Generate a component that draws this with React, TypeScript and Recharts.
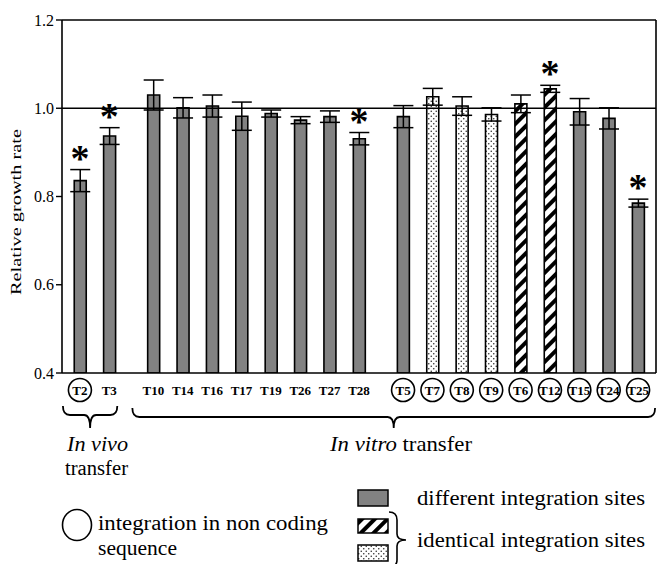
import React from "react";
import {
  ComposedChart,
  Bar,
  Cell,
  ErrorBar,
  Scatter,
  XAxis,
  YAxis,
  ReferenceLine,
} from "recharts";

// strains, in the order they are drawn
const strains = ["T2", "T3", "T10", "T14", "T16", "T17", "T19", "T26", "T27", "T28", "T5", "T7", "T8", "T9", "T6", "T12", "T15", "T24", "T25"];
// 0 = in vivo, 1 and 2 = in vitro (drawn with a gap between clusters)
const clusters = [0, 0, 1, 1, 1, 1, 1, 1, 1, 1, 2, 2, 2, 2, 2, 2, 2, 2, 2];
const growthRate = [0.836, 0.937, 1.03, 1.001, 1.005, 0.982, 0.988, 0.973, 0.981, 0.931, 0.981, 1.026, 1.005, 0.986, 1.01, 1.044, 0.992, 0.977, 0.785];
const growthErr = [0.025, 0.019, 0.034, 0.023, 0.025, 0.032, 0.008, 0.008, 0.013, 0.014, 0.025, 0.019, 0.021, 0.015, 0.02, 0.008, 0.03, 0.024, 0.009];
const significant = ["T2", "T3", "T28", "T12", "T25"];
const nonCoding = ["T2", "T5", "T7", "T8", "T9", "T6", "T12", "T15", "T24", "T25"];
const hatched = ["T6", "T12"];
const dotted = ["T7", "T8", "T9"];
const yTicks = [0.4, 0.6, 0.8, 1.0, 1.2];

const X_MIN = -0.61;
const X_MAX = 19.61;
const PLOT_L = 62;
const PLOT_R = 656;
const SERIF = '"Liberation Serif", "Times New Roman", serif';
const GRAY = "#828282";

const data = strains.map((s, i) => ({
  name: s,
  pos: i + clusters[i] * 0.5,
  rate: growthRate[i],
  err: growthErr[i],
  star: significant.includes(s) ? growthRate[i] + growthErr[i] : null,
}));

const xPx = (v: number) => PLOT_L + ((v - X_MIN) / (X_MAX - X_MIN)) * (PLOT_R - PLOT_L);

const fillFor = (s: string) =>
  hatched.includes(s) ? "url(#hatch)" : dotted.includes(s) ? "url(#dots)" : GRAY;

const StrainTick = ({ x, y, payload }: any) => {
  const d = data.find((p) => p.pos === payload.value);
  if (!d) return <g />;
  return (
    <g>
      {nonCoding.includes(d.name) && (
        <circle cx={x} cy={y + 17} r={11.5} fill="none" stroke="#000" strokeWidth={1.6} />
      )}
      <text x={x} y={y + 22} textAnchor="middle" fontFamily={SERIF} fontWeight="bold" fontSize={13} fill="#000">
        {d.name}
      </text>
    </g>
  );
};

const Star = ({ cx, cy, payload }: any) => {
  if (payload?.star == null) return <g />;
  return (
    <text x={cx} y={cy + 1} textAnchor="middle" fontFamily={SERIF} fontWeight="bold" fontSize={38} fill="#000">
      *
    </text>
  );
};

// curly brace pointing down, from x1 to x2
const braceDown = (x1: number, x2: number, y: number, h: number) => {
  const m = (x1 + x2) / 2;
  return `M${x1},${y - 9} Q${x1},${y} ${x1 + 7},${y} L${m - 6},${y} Q${m},${y} ${m},${y + h} Q${m},${y} ${m + 6},${y} L${x2 - 7},${y} Q${x2},${y} ${x2},${y - 9}`;
};

export default function App() {
  const vivoL = xPx(data[0].pos) - 17;
  const vivoR = xPx(data[1].pos) + 8;
  const vitroL = xPx(data[2].pos) - 21;
  const vitroR = xPx(data[data.length - 1].pos) + 17;

  return (
    <div style={{ position: "absolute", left: 0, top: 0, width: 659, height: 564, background: "#fff" }}>
      <ComposedChart
        width={659}
        height={564}
        data={data}
        margin={{ top: 20, right: 3, bottom: 161, left: 0 }}
      >
        <defs>
          <pattern id="hatch" patternUnits="userSpaceOnUse" width={9} height={9} patternTransform="rotate(45)">
            <rect width={9} height={9} fill="#fff" />
            <rect width={4} height={9} fill="#000" />
          </pattern>
          <pattern id="dots" patternUnits="userSpaceOnUse" width={5} height={5}>
            <rect width={5} height={5} fill="#fff" />
            <circle cx={1.25} cy={1.25} r={0.8} fill="#333" />
            <circle cx={3.75} cy={3.75} r={0.8} fill="#333" />
          </pattern>
        </defs>
        <XAxis
          dataKey="pos"
          type="number"
          domain={[X_MIN, X_MAX]}
          ticks={data.map((d) => d.pos)}
          interval={0}
          allowDataOverflow
          tick={<StrainTick />}
          tickLine={false}
          tickSize={0}
          tickMargin={0}
          height={30}
          axisLine={{ stroke: "#000", strokeWidth: 1.6 }}
        />
        <YAxis
          domain={[0.4, 1.2]}
          ticks={yTicks}
          allowDataOverflow
          width={62}
          tickFormatter={(v: number) => v.toFixed(1)}
          tick={{ fill: "#000", fontSize: 16, fontFamily: SERIF }}
          tickSize={6}
          tickMargin={2}
          tickLine={{ stroke: "#000", strokeWidth: 1.4 }}
          axisLine={{ stroke: "#000", strokeWidth: 1.6 }}
        />
        <ReferenceLine y={1.2} stroke="#000" strokeWidth={1.6} />
        <ReferenceLine x={X_MAX} stroke="#000" strokeWidth={1.6} />
        <ReferenceLine y={1.0} stroke="#000" strokeWidth={1.6} />
        <Bar dataKey="rate" barSize={12} stroke="#000" strokeWidth={1.6} isAnimationActive={false}>
          {data.map((d) => (
            <Cell key={d.name} fill={fillFor(d.name)} />
          ))}
          <ErrorBar dataKey="err" width={10} stroke="#000" strokeWidth={1.5} direction="y" />
        </Bar>
        <Scatter dataKey="star" shape={<Star />} isAnimationActive={false} />
      </ComposedChart>

      <svg
        width={659}
        height={564}
        style={{ position: "absolute", left: 0, top: 0, pointerEvents: "none" }}
        fontFamily={SERIF}
      >
        <text
          transform="translate(21,212) rotate(-90)"
          textAnchor="middle"
          fontSize={14}
          textLength={166}
          lengthAdjust="spacingAndGlyphs"
          fill="#000"
        >
          Relative growth rate
        </text>

        <path d={braceDown(vivoL, vivoR, 415, 13)} fill="none" stroke="#000" strokeWidth={1.8} />
        <path d={braceDown(vitroL, vitroR, 417, 11)} fill="none" stroke="#000" strokeWidth={1.8} />

        <text x={67} y={451} fontSize={21} fontStyle="italic" textLength={61} lengthAdjust="spacingAndGlyphs" fill="#000">
          In vivo
        </text>
        <text x={65} y={475} fontSize={20} textLength={63} lengthAdjust="spacingAndGlyphs" fill="#000">
          transfer
        </text>
        <text x={330} y={451} fontSize={21} textLength={142} lengthAdjust="spacingAndGlyphs" fill="#000">
          <tspan fontStyle="italic">In vitro</tspan> transfer
        </text>

        <ellipse cx={77} cy={525} rx={14.5} ry={15.5} fill="none" stroke="#000" strokeWidth={1.6} />
        <text x={98} y={530} fontSize={20} textLength={230} lengthAdjust="spacingAndGlyphs" fill="#000">
          integration in non coding
        </text>
        <text x={98} y={555} fontSize={20} textLength={79} lengthAdjust="spacingAndGlyphs" fill="#000">
          sequence
        </text>

        <rect x={358} y={490} width={30} height={16} fill={GRAY} stroke="#000" strokeWidth={1.5} />
        <rect x={358} y={519} width={30} height={14} fill="url(#hatch)" stroke="#000" strokeWidth={1.5} />
        <rect x={358} y={545} width={30} height={16} fill="url(#dots)" stroke="#000" strokeWidth={1.5} />
        <path
          d="M389,512 Q397,512 397,520 L397,534 Q397,540 406,540 Q397,540 397,546 L397,560 Q397,567 389,567"
          fill="none"
          stroke="#000"
          strokeWidth={1.6}
        />
        <text x={417} y={505} fontSize={20} textLength={228} lengthAdjust="spacingAndGlyphs" fill="#000">
          different integration sites
        </text>
        <text x={417} y={547} fontSize={20} textLength={228} lengthAdjust="spacingAndGlyphs" fill="#000">
          identical integration sites
        </text>
      </svg>
    </div>
  );
}
